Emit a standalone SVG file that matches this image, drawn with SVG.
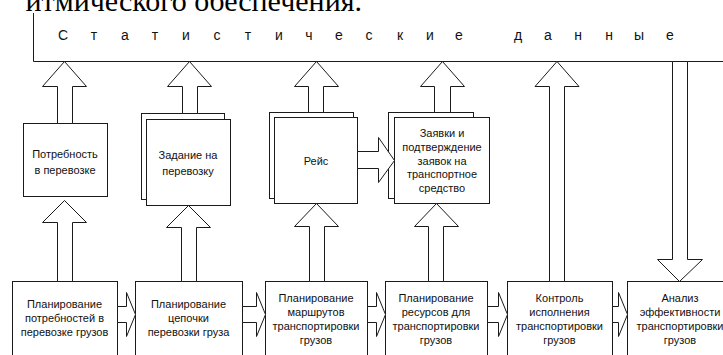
<svg xmlns="http://www.w3.org/2000/svg" width="723" height="355" viewBox="0 0 723 355">
<style>
.box{fill:#fff;stroke:#1a1a1a;stroke-width:1}
.arr{fill:#fff;stroke:#1a1a1a;stroke-width:1;stroke-linejoin:miter}
.t{font-family:"Liberation Sans",Arial,sans-serif;font-size:11px;fill:#111;text-anchor:middle}
.s{font-family:"Liberation Sans",Arial,sans-serif;font-size:14px;fill:#111;text-anchor:middle}
.h{font-family:"Liberation Serif","Times New Roman",serif;font-size:30px;fill:#000;text-anchor:end}
</style>
<rect width="723" height="355" fill="#fff"/>
<text class="h" x="362" y="11">итмического обеспечения.</text>
<g id="stat">
<path d="M33.5,13 V61.5 H723" fill="none" stroke="#1a1a1a" stroke-width="1"/>
<text class="s" y="40" x="63 94 125 155 186 217 248 279 309 339 369 400 430 459 518 548 578 609 639 670">Статистическиеданные</text>
</g>
<g id="n1"><rect class="box" x="23.5" y="123.5" width="84" height="73"/>
<text class="t" x="65" y="158">Потребность</text><text class="t" x="65" y="174">в перевозке</text></g>
<g id="n2"><rect class="box" x="141.5" y="113.5" width="83" height="86"/><rect class="box" x="146.5" y="119.5" width="84" height="86"/>
<text class="t" x="188" y="159">Задание на</text><text class="t" x="188" y="175">перевозку</text></g>
<g id="n3"><rect class="box" x="269.5" y="112.5" width="84" height="86"/><rect class="box" x="274.5" y="117.5" width="83" height="86"/>
<text class="t" x="316" y="165">Рейс</text></g>
<g id="n4"><rect class="box" x="388.5" y="112.5" width="85" height="86"/><rect class="box" x="394.5" y="117.5" width="95" height="86"/>
<text class="t" x="442" y="137">Заявки и</text><text class="t" x="442" y="151">подтверждение</text><text class="t" x="442" y="165">заявок на</text><text class="t" x="442" y="178">транспортное</text><text class="t" x="442" y="192">средство</text></g>
<g id="b1"><rect class="box" x="12.5" y="281.5" width="105" height="90"/>
<text class="t" x="64.5" y="308">Планирование</text><text class="t" x="64.5" y="322">потребностей в</text><text class="t" x="64.5" y="336">перевозке грузов</text></g>
<g id="b2"><rect class="box" x="135.5" y="281.5" width="107" height="90"/>
<text class="t" x="188.5" y="308">Планирование</text><text class="t" x="188.5" y="322">цепочки</text><text class="t" x="188.5" y="336">перевозки груза</text></g>
<g id="b3"><rect class="box" x="265.5" y="281.5" width="102" height="90"/>
<text class="t" x="316" y="302">Планирование</text><text class="t" x="316" y="316">маршрутов</text><text class="t" x="316" y="330">транспортировки</text><text class="t" x="316" y="344">грузов</text></g>
<g id="b4"><rect class="box" x="385.5" y="281.5" width="102" height="90"/>
<text class="t" x="436" y="302">Планирование</text><text class="t" x="436" y="316">ресурсов для</text><text class="t" x="436" y="330">транспортировки</text><text class="t" x="436" y="344">грузов</text></g>
<g id="b5"><rect class="box" x="507.5" y="281.5" width="105" height="90"/>
<text class="t" x="559.5" y="302">Контроль</text><text class="t" x="559.5" y="316">исполнения</text><text class="t" x="559.5" y="330">транспортировки</text><text class="t" x="559.5" y="344">грузов</text></g>
<g id="b6"><rect class="box" x="627.5" y="281.5" width="110" height="90"/>
<text class="t" x="680" y="302">Анализ</text><text class="t" x="680" y="316">эффективности</text><text class="t" x="680" y="330">транспортировки</text><text class="t" x="680" y="344">грузов</text></g>
<g id="connectors">
<polygon class="arr" points="64.5,61.5 86.5,86.5 72.5,86.5 72.5,123.5 57.5,123.5 57.5,86.5 42.5,86.5"/>
<polygon class="arr" points="189.5,61.5 211.5,86.5 197.5,86.5 197.5,113.5 182.5,113.5 182.5,86.5 167.5,86.5"/>
<polygon class="arr" points="316.5,61.5 338.5,86.5 323.5,86.5 323.5,112.5 308.5,112.5 308.5,86.5 294.5,86.5"/>
<polygon class="arr" points="442.5,61.5 464.5,86.5 450.5,86.5 450.5,112.5 434.5,112.5 434.5,86.5 420.5,86.5"/>
<polygon class="arr" points="557,61.5 579,86.5 564.5,86.5 564.5,281.5 549.5,281.5 549.5,86.5 535,86.5"/>
<polygon class="arr" points="64.5,200.5 86.5,222.5 72.5,222.5 72.5,281.5 57.5,281.5 57.5,222.5 42.5,222.5"/>
<polygon class="arr" points="188.5,205.5 210.5,227.5 196.5,227.5 196.5,281.5 181.5,281.5 181.5,227.5 166.5,227.5"/>
<polygon class="arr" points="316.5,203.5 338.5,226.5 324.5,226.5 324.5,281.5 309.5,281.5 309.5,226.5 294.5,226.5"/>
<polygon class="arr" points="436.5,203.5 458.5,226.5 443.5,226.5 443.5,281.5 428.5,281.5 428.5,226.5 414.5,226.5"/>
<polygon class="arr" points="672.5,61.5 687.5,61.5 687.5,259.5 702.5,259.5 679.5,281.5 657.5,259.5 672.5,259.5"/>
<polygon class="arr" points="357.5,151.5 378.5,151.5 378.5,137.5 394.5,160.5 378.5,182.5 378.5,168.5 357.5,168.5"/>
<polygon class="arr" points="117.5,306.5 126.5,306.5 126.5,292.5 135.5,314.5 126.5,336.5 126.5,322.5 117.5,322.5"/>
<polygon class="arr" points="242.5,306.5 256.5,306.5 256.5,292.5 265.5,314.5 256.5,336.5 256.5,322.5 242.5,322.5"/>
<polygon class="arr" points="367.5,306.5 376.5,306.5 376.5,292.5 385.5,314.5 376.5,336.5 376.5,322.5 367.5,322.5"/>
<polygon class="arr" points="487.5,306.5 498.5,306.5 498.5,292.5 507.5,314.5 498.5,336.5 498.5,322.5 487.5,322.5"/>
<polygon class="arr" points="612.5,306.5 618.5,306.5 618.5,292.5 627.5,314.5 618.5,336.5 618.5,322.5 612.5,322.5"/>
</g>
</svg>
